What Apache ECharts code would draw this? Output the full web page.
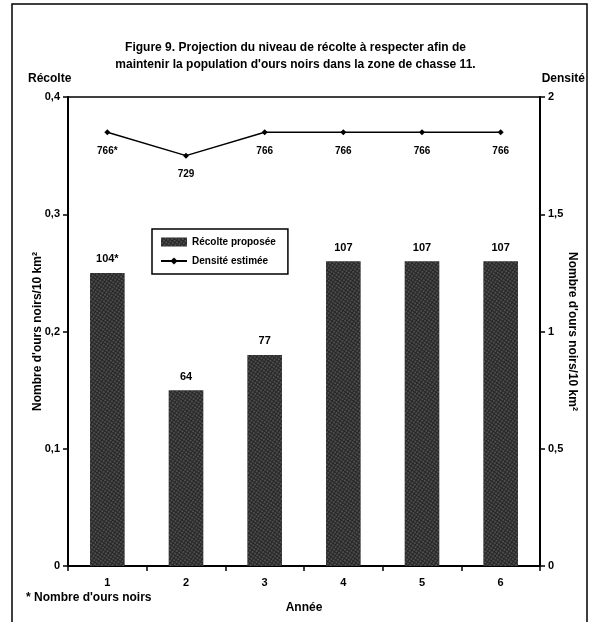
<!DOCTYPE html>
<html><head><meta charset="utf-8">
<script src="https://cdn.jsdelivr.net/npm/echarts@6/dist/echarts.min.js"></script>
<style>html,body{margin:0;padding:0;background:#fff}#c{width:591px;height:622px}</style>
</head><body><div id="c"></div>
<script>
const categories = ['1','2','3','4','5','6'];
const recolte = [0.25, 0.15, 0.18, 0.26, 0.26, 0.26];
const recolteLabels = ['104*','64','77','107','107','107'];
const densite = [1.85, 1.75, 1.85, 1.85, 1.85, 1.85];
const densiteLabels = ['766*','729','766','766','766','766'];
const leftTicks = ['0','0,1','0,2','0,3','0,4'];
const rightTicks = ['0','0,5','1','1,5','2'];

const F = 'Liberation Sans, Arial, sans-serif';
const chart = echarts.init(document.getElementById('c'));
chart.setOption({
  animation:false,
  backgroundColor:'#fff',
  title:{text:"Figure 9. Projection du niveau de récolte à respecter afin de\nmaintenir la population d'ours noirs dans la zone de chasse 11.",
    left:'center', top:34, textStyle:{fontFamily:F,fontWeight:'bold',fontSize:12,color:'#000',lineHeight:17}},
  legend:{orient:'vertical', left:152, top:229, itemGap:9, padding:[8,12,8,8],
    borderColor:'#000', borderWidth:1.5, backgroundColor:'#fff',
    itemWidth:26, itemHeight:9,
    textStyle:{fontFamily:F,fontWeight:'bold',fontSize:10,color:'#000'},
    data:[{name:'Récolte proposée', icon:'rect'},{name:'Densité estimée'}]},
  grid:{left:68, right:51, top:97, bottom:56},
  xAxis:{type:'category', data:categories, boundaryGap:true,
    name:'Année', nameLocation:'middle', nameGap:36,
    nameTextStyle:{fontFamily:F,fontWeight:'bold',fontSize:12,color:'#000'},
    axisLine:{lineStyle:{color:'#000',width:2}},
    axisTick:{show:true,alignWithLabel:false,length:5,lineStyle:{color:'#000',width:1.5}},
    axisLabel:{fontFamily:F,fontWeight:'bold',fontSize:11,color:'#000',margin:11}},
  yAxis:[
    {type:'value', min:0, max:0.4, interval:0.1, position:'left',
     name:"Nombre d'ours noirs/10 km²", nameLocation:'middle', nameGap:24, nameRotate:90, nameMoveOverlap:false,
     nameTextStyle:{fontFamily:F,fontWeight:'bold',fontSize:12,color:'#000'},
     axisLine:{show:true,lineStyle:{color:'#000',width:2}},
     axisTick:{show:true,length:5,lineStyle:{color:'#000',width:1.5}},
     splitLine:{show:false},
     axisLabel:{fontFamily:F,fontWeight:'bold',fontSize:11,color:'#000',margin:8,
       formatter:(v)=>leftTicks[Math.round(v*10)]}},
    {type:'value', min:0, max:2, interval:0.5, position:'right',
     name:"Nombre d'ours noirs/10 km²", nameLocation:'middle', nameGap:26, nameRotate:-90, nameMoveOverlap:false,
     nameTextStyle:{fontFamily:F,fontWeight:'bold',fontSize:12,color:'#000'},
     axisLine:{show:true,lineStyle:{color:'#000',width:2}},
     axisTick:{show:true,length:5,lineStyle:{color:'#000',width:1.5}},
     splitLine:{show:false},
     axisLabel:{fontFamily:F,fontWeight:'bold',fontSize:11,color:'#000',margin:8,
       formatter:(v)=>rightTicks[Math.round(v*2)]}}
  ],
  series:[
    {name:'Récolte proposée', type:'bar', yAxisIndex:0, data:recolte, barWidth:'44%',
     itemStyle:{color:'#262626',
       decal:{symbol:'circle', symbolSize:0.7, color:'rgba(255,255,255,0.5)', dashArrayX:[2,1], dashArrayY:[2,1], rotation:0.6}},
     label:{show:true, position:'top', distance:8, fontFamily:F, fontWeight:'bold', fontSize:11, color:'#000',
       formatter:p=>recolteLabels[p.dataIndex]}},
    {name:'Densité estimée', type:'line', yAxisIndex:1, data:densite,
     symbol:'diamond', symbolSize:6, showSymbol:true,
     lineStyle:{color:'#000',width:1.5}, itemStyle:{color:'#000'},
     label:{show:true, position:'bottom', distance:11, fontFamily:F, fontWeight:'bold', fontSize:10, color:'#000',
       formatter:p=>densiteLabels[p.dataIndex]}}
  ],
  graphic:[
    {type:'rect', shape:{x:12,y:4,width:575,height:625}, style:{fill:'none',stroke:'#000',lineWidth:1.5}, silent:true},
    {type:'line', shape:{x1:68,y1:97,x2:540,y2:97}, style:{stroke:'#000',lineWidth:1.5}, silent:true},
    {type:'text', left:28, top:73, style:{text:'Récolte', font:'bold 12px '+F, fill:'#000'}},
    {type:'text', right:6, top:73, style:{text:'Densité', font:'bold 12px '+F, fill:'#000'}},
    {type:'text', left:26, top:592, style:{text:"* Nombre d'ours noirs", font:'bold 12px '+F, fill:'#000'}}
  ]
});
</script></body></html>
